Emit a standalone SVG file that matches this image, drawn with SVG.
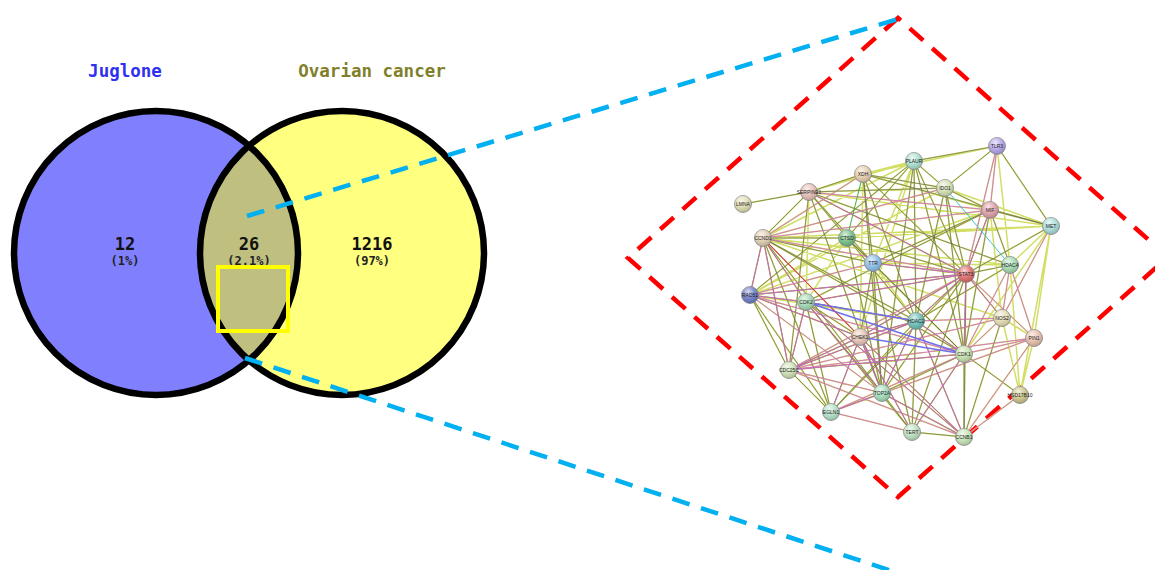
<svg xmlns="http://www.w3.org/2000/svg" width="1155" height="570" viewBox="0 0 1155 570">
<style>
.ttl{font-family:"DejaVu Sans Mono","Liberation Mono",monospace;font-weight:bold;font-size:17.5px;text-anchor:middle}
.num{font-family:"DejaVu Sans Mono","Liberation Mono",monospace;font-weight:bold;font-size:17px;text-anchor:middle;fill:#111}
.pct{font-family:"DejaVu Sans Mono","Liberation Mono",monospace;font-weight:bold;font-size:12px;text-anchor:middle;fill:#222}
.ring{fill:none;stroke:#000;stroke-width:6.5}
.zoom{fill:none;stroke:#00b0f0;stroke-width:4.5;stroke-dasharray:18 12}
.frame{fill:none;stroke:#ff0000;stroke-width:4.5;stroke-dasharray:18 12}
.ey{stroke:#d2de66;stroke-width:1.5;fill:none}
.ek{stroke:#5a5a50;stroke-width:0.7;fill:none;stroke-opacity:0.85}
.em{stroke:#d860d8;stroke-width:0.8;fill:none}
.eb{stroke:#7070ea;stroke-width:1.6;fill:none}
.eg{stroke:#40b040;stroke-width:1;fill:none}
.ec{stroke:#40c0d0;stroke-width:1;fill:none}
.er{stroke:#e83030;stroke-width:0.9;fill:none}
.nd{stroke:#8a8a8a;stroke-width:0.8}
.hl{fill:url(#shine);stroke:none}
.lb{font-family:"Liberation Sans",Arial,sans-serif;font-size:5px;text-anchor:middle;fill:#222}
</style>
<defs>
<clipPath id="leftClip"><circle cx="156" cy="253" r="142"/></clipPath>
<radialGradient id="shine" cx="0.4" cy="0.3" r="0.7">
<stop offset="0" stop-color="#fff" stop-opacity="0.75"/>
<stop offset="0.5" stop-color="#fff" stop-opacity="0.15"/>
<stop offset="1" stop-color="#000" stop-opacity="0.15"/>
</radialGradient>
</defs>
<rect width="1155" height="570" fill="#fff"/>

<g id="venn">
<g id="set-juglone">
<circle cx="156" cy="253" r="142" fill="#8080ff"/>
</g>
<g id="set-ovarian">
<circle cx="342" cy="253" r="142" fill="#ffff80"/>
</g>
<g id="set-overlap">
<circle cx="342" cy="253" r="142" fill="#bfbf80" clip-path="url(#leftClip)"/>
</g>
<circle class="ring" cx="156" cy="253" r="142"/>
<circle class="ring" cx="342" cy="253" r="142"/>
<text class="ttl" x="125" y="77" fill="#3030f0">Juglone</text>
<text class="ttl" x="372" y="77" fill="#80802a">Ovarian cancer</text>
<text class="num" x="125" y="250">12</text>
<text class="pct" x="125" y="265">(1%)</text>
<text class="num" x="249" y="250">26</text>
<text class="pct" x="249" y="265">(2.1%)</text>
<text class="num" x="372" y="250">1216</text>
<text class="pct" x="372" y="265">(97%)</text>
</g>

<g id="frame">
<path class="frame" d="M898 18 L628 258 L898 497 L1168 257 Z"/>
</g>

<g id="connectors">
<line class="zoom" x1="247" y1="216" x2="898" y2="19"/>
<line class="zoom" x1="245" y1="358" x2="895" y2="572"/>
</g>

<g id="highlight">
<rect x="218" y="267" width="70" height="64" fill="none" stroke="#ffff00" stroke-width="4"/>
</g>

<g id="network-edges">
<path class="ey" d="M743 204L809 192M809 192L863 174M809 192L914 161M809 192L945 188M809 192L763 238M809 192L847 238M809 192L873 263M809 192L966 274M809 192L806 302M809 192L916 321M809 192L789 370M809 192L882 393M809 192L990 210M809 192L1051 226M809 192L1010 265M863 174L914 161M863 174L945 188M863 174L873 263M863 174L966 274M863 174L916 321M863 174L882 393M863 174L860 337M863 174L763 238M863 174L990 210M863 174L1051 226M863 174L997 146M914 161L997 146M914 161L945 188M914 161L763 238M914 161L966 274M914 161L916 321M914 161L964 354M914 161L882 393M914 161L860 337M914 161L750 295M914 161L873 263M914 161L847 238M997 146L945 188M997 146L990 210M997 146L1051 226M997 146L966 274M997 146L1010 265M945 188L990 210M945 188L966 274M945 188L1051 226M945 188L916 321M945 188L763 238M945 188L964 354M945 188L750 295M990 210L1051 226M990 210L763 238M990 210L966 274M990 210L964 354M990 210L1010 265M990 210L806 302M990 210L750 295M990 210L1002 318M990 210L873 263M1051 226L1010 265M1051 226L966 274M1051 226L1002 318M1051 226L1034 338M1051 226L1020 395M1051 226L763 238M1051 226L964 354M1051 226L847 238M763 238L750 295M763 238L806 302M763 238L860 337M763 238L789 370M763 238L882 393M763 238L847 238M763 238L873 263M763 238L966 274M763 238L916 321M763 238L1002 318M763 238L831 412M763 238L1010 265M763 238L964 354M847 238L873 263M847 238L966 274M847 238L806 302M847 238L882 393M847 238L750 295M847 238L964 354M873 263L966 274M873 263L860 337M873 263L882 393M873 263L912 432M873 263L916 321M873 263L750 295M873 263L964 354M873 263L1010 265M1010 265L966 274M1010 265L1002 318M1010 265L1034 338M1010 265L964 354M1010 265L916 321M1010 265L1020 395M966 274L750 295M966 274L806 302M966 274L916 321M966 274L1002 318M966 274L860 337M966 274L1034 338M966 274L964 354M966 274L789 370M966 274L882 393M966 274L912 432M966 274L964 437M966 274L831 412M750 295L806 302M750 295L860 337M750 295L789 370M750 295L831 412M750 295L882 393M750 295L964 354M750 295L916 321M806 302L860 337M806 302L916 321M806 302L789 370M806 302L882 393M806 302L964 437M806 302L912 432M806 302L831 412M916 321L964 354M916 321L882 393M916 321L860 337M916 321L789 370M916 321L912 432M916 321L964 437M916 321L1002 318M916 321L831 412M1002 318L1034 338M1002 318L964 354M1002 318L964 437M1002 318L1020 395M1002 318L789 370M860 337L882 393M860 337L789 370M860 337L912 432M860 337L964 437M860 337L831 412M1034 338L964 354M1034 338L1020 395M1034 338L964 437M1034 338L789 370M1034 338L831 412M964 354L882 393M964 354L1020 395M964 354L912 432M964 354L964 437M964 354L789 370M964 354L831 412M789 370L882 393M789 370L831 412M789 370L964 437M882 393L831 412M882 393L912 432M882 393L964 437M831 412L912 432M912 432L964 437M1020 395L964 437"/>
<path class="ek" d="M743 204L809 192M809 192L863 174M809 192L945 188M809 192L763 238M809 192L873 263M809 192L966 274M809 192L916 321M809 192L789 370M809 192L882 393M809 192L1010 265M863 174L945 188M863 174L873 263M863 174L966 274M863 174L916 321M863 174L882 393M863 174L1051 226M914 161L997 146M914 161L945 188M914 161L966 274M914 161L916 321M914 161L964 354M914 161L882 393M914 161L750 295M914 161L847 238M997 146L945 188M997 146L1051 226M945 188L990 210M945 188L966 274M945 188L916 321M945 188L964 354M990 210L1051 226M990 210L966 274M990 210L964 354M990 210L1010 265M990 210L806 302M990 210L873 263M1051 226L966 274M763 238L750 295M763 238L806 302M763 238L860 337M763 238L789 370M763 238L882 393M763 238L847 238M763 238L873 263M763 238L916 321M763 238L831 412M763 238L964 354M847 238L873 263M847 238L966 274M847 238L882 393M847 238L964 354M873 263L966 274M873 263L860 337M873 263L882 393M873 263L912 432M873 263L964 354M1010 265L966 274M1010 265L916 321M966 274L750 295M966 274L806 302M966 274L916 321M966 274L1002 318M966 274L860 337M966 274L964 354M966 274L882 393M966 274L912 432M966 274L964 437M966 274L831 412M750 295L806 302M750 295L860 337M750 295L789 370M750 295L831 412M806 302L860 337M806 302L916 321M806 302L789 370M806 302L882 393M806 302L964 437M806 302L912 432M806 302L831 412M916 321L964 354M916 321L882 393M916 321L860 337M916 321L789 370M916 321L912 432M916 321L964 437M916 321L831 412M1002 318L964 437M860 337L882 393M860 337L789 370M860 337L912 432M860 337L964 437M860 337L831 412M964 354L882 393M964 354L1020 395M964 354L912 432M964 354L964 437M964 354L789 370M789 370L831 412M882 393L831 412M882 393L912 432M882 393L964 437M912 432L964 437"/>
<path class="em" d="M809 192L966 274M809 192L990 210M863 174L763 238M997 146L990 210M997 146L966 274M945 188L763 238M990 210L763 238M990 210L966 274M1051 226L1002 318M763 238L750 295M763 238L806 302M763 238L860 337M763 238L789 370M763 238L966 274M873 263L966 274M873 263L750 295M1010 265L1002 318M1010 265L1034 338M1010 265L964 354M966 274L750 295M966 274L806 302M966 274L916 321M966 274L1002 318M966 274L860 337M966 274L1034 338M966 274L964 354M966 274L789 370M750 295L806 302M750 295L860 337M750 295L882 393M750 295L964 354M806 302L916 321M806 302L789 370M806 302L882 393M806 302L964 437M916 321L964 354M916 321L882 393M916 321L860 337M916 321L789 370M916 321L964 437M916 321L1002 318M1002 318L964 354M1002 318L789 370M860 337L882 393M860 337L789 370M860 337L912 432M860 337L964 437M860 337L831 412M1034 338L964 354M1034 338L964 437M1034 338L789 370M1034 338L831 412M964 354L912 432M964 354L789 370M964 354L831 412M789 370L882 393M789 370L964 437M882 393L964 437M831 412L912 432M1020 395L964 437"/>
<path class="eb" d="M806 302L964 354M860 337L964 354M806 302L916 321"/>
<path class="eg" d="M863 174L847 238"/>
<path class="ec" d="M945 188L1010 265"/>
<path class="er" d="M763 238L860 337"/>
</g>

<g id="n-LMNA"><circle class="nd" cx="743" cy="204" r="8.5" fill="#dedcae"/><circle class="hl" cx="743" cy="204" r="8.5"/><text class="lb" x="743" y="206">LMNA</text></g>
<g id="n-SERPINE1"><circle class="nd" cx="809" cy="192" r="8.5" fill="#e6bcb4"/><circle class="hl" cx="809" cy="192" r="8.5"/><text class="lb" x="809" y="194">SERPINE1</text></g>
<g id="n-XDH"><circle class="nd" cx="863" cy="174" r="8.5" fill="#e6ccaa"/><circle class="hl" cx="863" cy="174" r="8.5"/><text class="lb" x="863" y="176">XDH</text></g>
<g id="n-PLAUR"><circle class="nd" cx="914" cy="161" r="8.5" fill="#a8e0cc"/><circle class="hl" cx="914" cy="161" r="8.5"/><text class="lb" x="914" y="163">PLAUR</text></g>
<g id="n-IDO1"><circle class="nd" cx="945" cy="188" r="8.5" fill="#d2e0b0"/><circle class="hl" cx="945" cy="188" r="8.5"/><text class="lb" x="945" y="190">IDO1</text></g>
<g id="n-TLR3"><circle class="nd" cx="997" cy="146" r="8.5" fill="#b0a0e6"/><circle class="hl" cx="997" cy="146" r="8.5"/><text class="lb" x="997" y="148">TLR3</text></g>
<g id="n-MIF"><circle class="nd" cx="990" cy="210" r="8.5" fill="#de9ca4"/><circle class="hl" cx="990" cy="210" r="8.5"/><text class="lb" x="990" y="212">MIF</text></g>
<g id="n-MET"><circle class="nd" cx="1051" cy="226" r="8.5" fill="#a8dcd8"/><circle class="hl" cx="1051" cy="226" r="8.5"/><text class="lb" x="1051" y="228">MET</text></g>
<g id="n-CCND1"><circle class="nd" cx="763" cy="238" r="8.5" fill="#e0ccb0"/><circle class="hl" cx="763" cy="238" r="8.5"/><text class="lb" x="763" y="240">CCND1</text></g>
<g id="n-CTSD"><circle class="nd" cx="847" cy="238" r="8.5" fill="#70bc80"/><circle class="hl" cx="847" cy="238" r="8.5"/><text class="lb" x="847" y="240">CTSD</text></g>
<g id="n-TTR"><circle class="nd" cx="873" cy="263" r="8.5" fill="#88bce8"/><circle class="hl" cx="873" cy="263" r="8.5"/><text class="lb" x="873" y="265">TTR</text></g>
<g id="n-HDAC4"><circle class="nd" cx="1010" cy="265" r="8.5" fill="#a0d8ac"/><circle class="hl" cx="1010" cy="265" r="8.5"/><text class="lb" x="1010" y="267">HDAC4</text></g>
<g id="n-STAT3"><circle class="nd" cx="966" cy="274" r="8.5" fill="#e06868"/><circle class="hl" cx="966" cy="274" r="8.5"/><text class="lb" x="966" y="276">STAT3</text></g>
<g id="n-RAD51"><circle class="nd" cx="750" cy="295" r="8.5" fill="#6878c4"/><circle class="hl" cx="750" cy="295" r="8.5"/><text class="lb" x="750" y="297">RAD51</text></g>
<g id="n-CDK2"><circle class="nd" cx="806" cy="302" r="8.5" fill="#a0d8b0"/><circle class="hl" cx="806" cy="302" r="8.5"/><text class="lb" x="806" y="304">CDK2</text></g>
<g id="n-HDAC2"><circle class="nd" cx="916" cy="321" r="8.5" fill="#68bcb4"/><circle class="hl" cx="916" cy="321" r="8.5"/><text class="lb" x="916" y="323">HDAC2</text></g>
<g id="n-NOS2"><circle class="nd" cx="1002" cy="318" r="8.5" fill="#e4dcb0"/><circle class="hl" cx="1002" cy="318" r="8.5"/><text class="lb" x="1002" y="320">NOS2</text></g>
<g id="n-CHEK1"><circle class="nd" cx="860" cy="337" r="8.5" fill="#e6c4b2"/><circle class="hl" cx="860" cy="337" r="8.5"/><text class="lb" x="860" y="339">CHEK1</text></g>
<g id="n-PIN1"><circle class="nd" cx="1034" cy="338" r="8.5" fill="#e6bca8"/><circle class="hl" cx="1034" cy="338" r="8.5"/><text class="lb" x="1034" y="340">PIN1</text></g>
<g id="n-CDK1"><circle class="nd" cx="964" cy="354" r="8.5" fill="#c4e0a8"/><circle class="hl" cx="964" cy="354" r="8.5"/><text class="lb" x="964" y="356">CDK1</text></g>
<g id="n-CDC25C"><circle class="nd" cx="789" cy="370" r="8.5" fill="#cce0b2"/><circle class="hl" cx="789" cy="370" r="8.5"/><text class="lb" x="789" y="372">CDC25C</text></g>
<g id="n-TOP2A"><circle class="nd" cx="882" cy="393" r="8.5" fill="#a0dcb8"/><circle class="hl" cx="882" cy="393" r="8.5"/><text class="lb" x="882" y="395">TOP2A</text></g>
<g id="n-HSD17B10"><circle class="nd" cx="1020" cy="395" r="8.5" fill="#ccc488"/><circle class="hl" cx="1020" cy="395" r="8.5"/><text class="lb" x="1020" y="397">HSD17B10</text></g>
<g id="n-EGLN1"><circle class="nd" cx="831" cy="412" r="8.5" fill="#b0e0c4"/><circle class="hl" cx="831" cy="412" r="8.5"/><text class="lb" x="831" y="414">EGLN1</text></g>
<g id="n-TERT"><circle class="nd" cx="912" cy="432" r="8.5" fill="#bce0bc"/><circle class="hl" cx="912" cy="432" r="8.5"/><text class="lb" x="912" y="434">TERT</text></g>
<g id="n-CCNB1"><circle class="nd" cx="964" cy="437" r="8.5" fill="#c4e4b4"/><circle class="hl" cx="964" cy="437" r="8.5"/><text class="lb" x="964" y="439">CCNB1</text></g>
</svg>
